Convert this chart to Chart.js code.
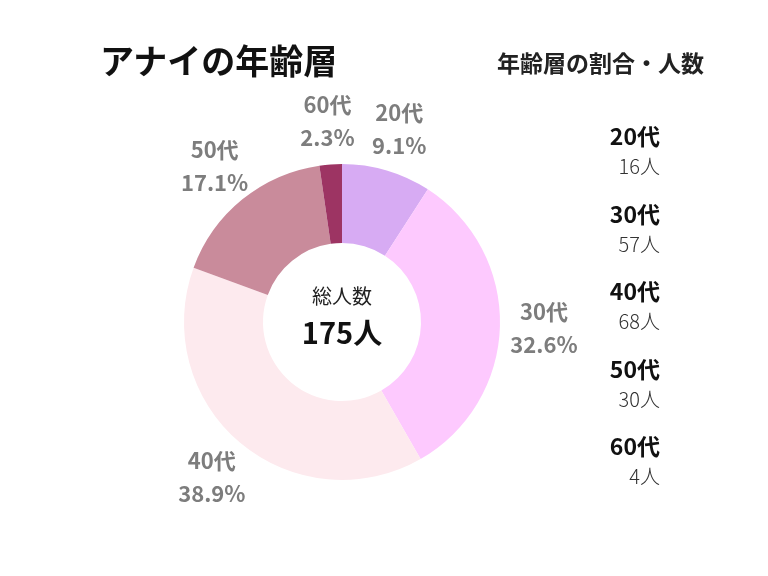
<!DOCTYPE html>
<html><head><meta charset="utf-8">
<script src="https://cdn.jsdelivr.net/npm/chart.js@4/dist/chart.umd.min.js"></script>
<style>
html,body{margin:0;padding:0;background:#fff;}
#wrap{position:relative;width:768px;height:576px;font-family:"Noto Sans CJK JP","Noto Sans",sans-serif;}
canvas{position:absolute;left:0;top:0;}
.t{position:absolute;white-space:nowrap;line-height:1;}
#title{left:100px;top:43px;font-size:34px;font-weight:700;color:#111;}
#sub{left:497px;top:51px;font-size:23px;font-weight:700;color:#222;}
#center1{left:242px;width:200px;text-align:center;top:286px;font-size:20px;color:#222;}
#center2{left:242px;width:200px;text-align:center;top:317px;font-size:29px;font-weight:700;color:#111;}
.lg{position:absolute;right:108px;text-align:right;white-space:nowrap;line-height:1;}
.lg1{font-size:23px;font-weight:700;color:#111;}
.lg2{font-size:20px;font-weight:300;color:#333;}
</style></head>
<body>
<div id="wrap">
<canvas id="c" width="768" height="576"></canvas>
<div class="t" id="title">アナイの年齢層</div>
<div class="t" id="sub">年齢層の割合・人数</div>
<div class="t" id="center1">総人数</div>
<div class="t" id="center2"></div>
</div>
<script>
const categories = ["20代","30代","40代","50代","60代"];
const counts = [16, 57, 68, 30, 4];
const colors = ["#d7abf3","#fdc9fe","#fdeaee","#c98b9b","#9d3463"];
const unit = "人";

const total = counts.reduce((a,b)=>a+b,0);
document.getElementById('center2').textContent = total + unit;

const wrap = document.getElementById('wrap');
categories.forEach((cat,i)=>{
  const top = 124 + i*77.5;
  const a = document.createElement('div');
  a.className='lg lg1'; a.style.top = top+'px'; a.textContent = cat;
  wrap.appendChild(a);
  const b = document.createElement('div');
  b.className='lg lg2'; b.style.top = (top+32)+'px'; b.textContent = counts[i]+unit;
  wrap.appendChild(b);
});

const outsideLabels = {
  id:'outsideLabels',
  afterDatasetsDraw(chart){
    const ctx = chart.ctx;
    const meta = chart.getDatasetMeta(0);
    ctx.save();
    ctx.fillStyle = '#7d7d7d';
    ctx.font = '700 22px "Noto Sans CJK JP", "Noto Sans", sans-serif';
    ctx.textAlign = 'center';
    ctx.textBaseline = 'middle';
    meta.data.forEach((arc,i)=>{
      const p = arc.getProps(['x','y','startAngle','endAngle','outerRadius'], true);
      const mid = (p.startAngle + p.endAngle)/2;
      const r = p.outerRadius + 44;
      const x = p.x + Math.cos(mid)*r;
      const y = p.y + Math.sin(mid)*r;
      const pct = (counts[i]/total*100).toFixed(1) + '%';
      ctx.fillText(categories[i], x, y-16);
      ctx.fillText(pct, x, y+17);
    });
    ctx.restore();
  }
};

new Chart(document.getElementById('c'), {
  type:'doughnut',
  data:{labels:categories, datasets:[{data:counts, backgroundColor:colors, borderWidth:0}]},
  options:{
    responsive:false, animation:false, cutout:'50%',
    layout:{padding:{left:184,right:268,top:164,bottom:96}},
    plugins:{legend:{display:false}, tooltip:{enabled:false}}
  },
  plugins:[outsideLabels]
});
</script>
</body></html>
